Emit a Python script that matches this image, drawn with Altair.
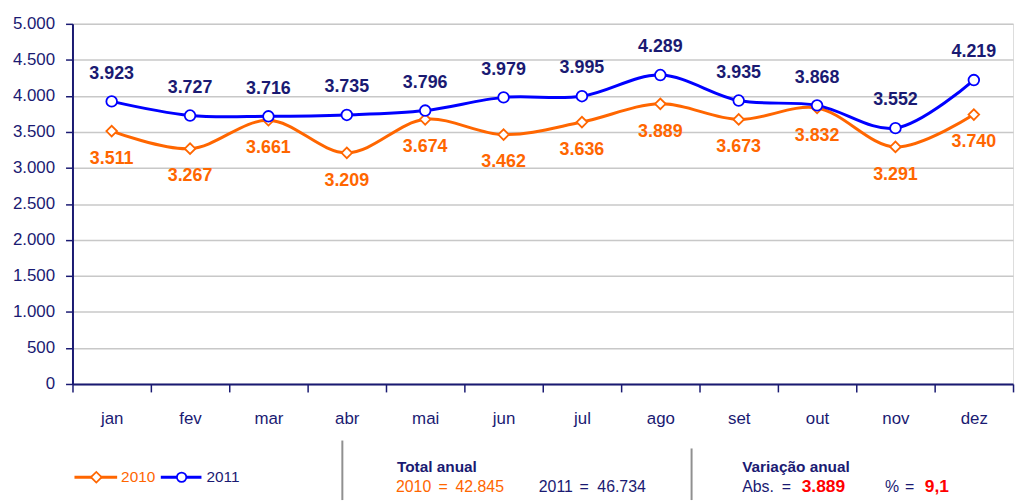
import altair as alt
import pandas as pd

months = ["jan", "fev", "mar", "abr", "mai", "jun", "jul", "ago", "set", "out", "nov", "dez"]
values_2010 = [3511, 3267, 3661, 3209, 3674, 3462, 3636, 3889, 3673, 3832, 3291, 3740]
values_2011 = [3923, 3727, 3716, 3735, 3796, 3979, 3995, 4289, 3935, 3868, 3552, 4219]
series = ["2010", "2011"]
y_ticks = list(range(0, 5001, 500))

total_title = "Total anual"
total_2010 = ["2010", "=", "42.845"]
total_2011 = ["2011", "=", "46.734"]
var_title = "Variação anual"
abs_parts = ["Abs.", "=", "3.889"]
pct_parts = ["%", "=", "9,1"]

ORANGE = "#FF6600"
BLUE = "#0000FF"
NAVY = "#1A1A72"
RED = "#FF0000"
FONT = "Liberation Sans"

def fmt(v):
    return f"{v:,}".replace(",", ".")

rows = []
for s, vals in zip(series, [values_2010, values_2011]):
    for m, v in zip(months, vals):
        rows.append({"month": m, "serie": s, "value": v, "label": fmt(v)})
df = pd.DataFrame(rows)

x_enc = alt.X("month:N", sort=months, scale=alt.Scale(paddingInner=0, paddingOuter=0),
              axis=alt.Axis(title=None, labelAngle=0, tickBand="extent", tickSize=8,
                            labelPadding=19, labelFontSize=17, labelColor=NAVY, labelFont=FONT,
                            domainColor=NAVY, domainWidth=2, tickColor=NAVY, tickWidth=1.5,
                            grid=False))
y_enc = alt.Y("value:Q", scale=alt.Scale(domain=[0, 5000], nice=False),
              axis=alt.Axis(title=None, values=y_ticks,
                            labelExpr="replace(format(datum.value, ','), ',', '.')",
                            grid=True, gridColor="#C8C8C8", gridWidth=1.5,
                            domainColor=NAVY, domainWidth=2, tickColor=NAVY, tickSize=7,
                            tickWidth=1.5, labelFontSize=17, labelColor=NAVY, labelFont=FONT,
                            labelPadding=11))
color_scale = alt.Scale(domain=series, range=[ORANGE, BLUE])

base = alt.Chart(df)
lines = base.mark_line(interpolate="catmull-rom", strokeWidth=3).encode(
    x=x_enc, y=y_enc, color=alt.Color("serie:N", scale=color_scale, legend=None))
points = base.mark_point(filled=True, fill="white", size=115, strokeWidth=1.8, opacity=1).encode(
    x=x_enc, y=y_enc,
    stroke=alt.Stroke("serie:N", scale=color_scale, legend=None),
    shape=alt.Shape("serie:N", scale=alt.Scale(domain=series, range=["diamond", "circle"]), legend=None))
lab2010 = base.transform_filter("datum.serie == '2010'").mark_text(
    dy=28, fontSize=18, fontWeight="bold", font=FONT, color=ORANGE).encode(
    x=x_enc, y=y_enc, text="label:N")
lab2011 = base.transform_filter("datum.serie == '2011'").mark_text(
    dy=-28, fontSize=18, fontWeight="bold", font=FONT, color=NAVY).encode(
    x=x_enc, y=y_enc, text="label:N")

one = pd.DataFrame({"k": [0]})
ann = alt.Chart(one)

def txt(t, x, y, color, size, weight="normal"):
    return ann.mark_text(text=t, align="left", baseline="middle", fontSize=size,
                         fontWeight=weight, font=FONT, color=color).encode(
        x=alt.value(x), y=alt.value(y))

def rule(x1, x2, y1, y2, color, w):
    return ann.mark_rule(color=color, strokeWidth=w).encode(
        x=alt.value(x1), x2=alt.value(x2), y=alt.value(y1), y2=alt.value(y2))

def sym(shape, x, y, color, size):
    return ann.mark_point(shape=shape, filled=True, fill="white", stroke=color, size=size,
                          strokeWidth=1.8, opacity=1).encode(x=alt.value(x), y=alt.value(y))

LY = 457
legend_layers = [
    rule(2, 45, LY, LY, ORANGE, 3), sym("diamond", 24, LY, ORANGE, 115),
    txt("2010", 49, LY, ORANGE, 15.5),
    rule(89, 130, LY, LY, BLUE, 3), sym("circle", 110, LY, BLUE, 90),
    txt("2011", 135, LY, NAVY, 15.5),
]
sep_layers = [rule(272, 272, 420, 480, "#909090", 2), rule(624, 624, 428, 480, "#909090", 2)]
TY, VY = 447, 467
text_layers = [
    txt(total_title, 327, TY, NAVY, 15.5, "bold"),
    txt(total_2010[0], 326, VY, ORANGE, 16), txt(total_2010[1], 369, VY, ORANGE, 16),
    txt(total_2010[2], 386, VY, ORANGE, 16),
    txt(total_2011[0], 470, VY, NAVY, 16), txt(total_2011[1], 511, VY, NAVY, 16),
    txt(total_2011[2], 529, VY, NAVY, 16),
    txt(var_title, 675, TY, NAVY, 15.5, "bold"),
    txt(abs_parts[0], 675, VY, NAVY, 16), txt(abs_parts[1], 715, VY, NAVY, 16),
    txt(abs_parts[2], 735, VY, RED, 17.5, "bold"),
    txt(pct_parts[0], 819, VY, NAVY, 16), txt(pct_parts[1], 839, VY, NAVY, 16),
    txt(pct_parts[2], 859, VY, RED, 17.5, "bold"),
]

chart = alt.layer(lines, points, lab2010, lab2011, *legend_layers, *sep_layers, *text_layers).properties(
    width=948, height=363,
    autosize=alt.AutoSizeParams(type="none"),
    padding={"left": 65, "top": 14, "right": 3, "bottom": 117},
).configure_view(stroke=None).configure(background="white")

chart.save("out.html", embed_options={"renderer": "svg", "actions": False})
